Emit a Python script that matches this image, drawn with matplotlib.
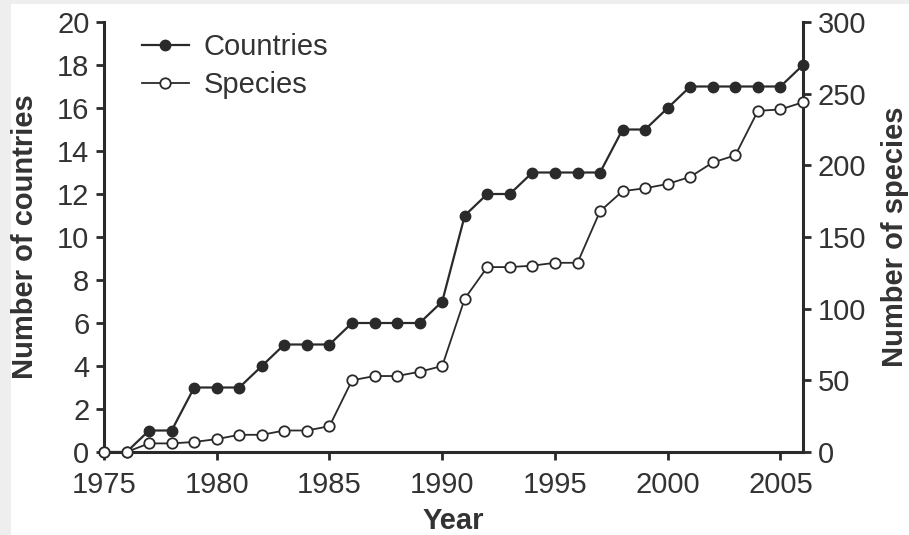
import matplotlib.pyplot as plt
from matplotlib.patches import Rectangle

plt.rcParams['font.family'] = ['Liberation Sans', 'DejaVu Sans']

years = list(range(1975, 2007))
countries = [0, 0, 1, 1, 3, 3, 3, 4, 5, 5, 5, 6, 6, 6, 6, 7,
             11, 12, 12, 13, 13, 13, 13, 15, 15, 16, 17, 17, 17, 17, 17, 18]
species = [0, 0, 6, 6, 7, 9, 12, 12, 15, 15, 18, 50, 53, 53, 56, 60,
           107, 129, 129, 130, 132, 132, 168, 182, 184, 187, 192, 202, 207, 238, 239, 244]

xticks = [1975, 1980, 1985, 1990, 1995, 2000, 2005]
ink = '#2a2a2a'
txt = '#333333'
fs = 21

fig = plt.figure(figsize=(9.09, 5.35), dpi=100)
# light grey frame on the left and top edges
fig.patches.append(Rectangle((0, 0), 1, 1, transform=fig.transFigure,
                             facecolor='#eeeeee', edgecolor='none', zorder=-2))
fig.patches.append(Rectangle((11/909, 0), 1, 1 - 4/535, transform=fig.transFigure,
                             facecolor='white', edgecolor='none', zorder=-1))

ax = fig.add_axes([104/909, 83/535, 699/909, 430/535])
ax.patch.set_alpha(0)
ax2 = ax.twinx()

l1, = ax.plot(years, countries, '-o', color=ink, lw=1.6, ms=7.5,
              mfc=ink, mec=ink, label='Countries', zorder=3)
l2, = ax2.plot(years, species, '-o', color=ink, lw=1.3, ms=7.5,
               mfc='white', mec=ink, mew=1.3, label='Species', zorder=4)

ax.set_xlim(1975, 2006)
ax.set_ylim(0, 20)
ax2.set_ylim(0, 300)
ax.set_xticks(xticks)
ax.set_yticks(range(0, 21, 2))
ax2.set_yticks(range(0, 301, 50))

for a in (ax, ax2):
    a.spines['top'].set_visible(False)
    for s in a.spines.values():
        s.set_color(ink)
        s.set_linewidth(2.2)
    a.tick_params(colors=ink, labelcolor=txt, labelsize=fs, width=2, length=5.5, pad=5)
ax.tick_params(axis='x', pad=8)
ax.spines['right'].set_visible(False)
ax2.spines['left'].set_visible(False)
ax2.spines['bottom'].set_visible(False)
l1.set_clip_on(False)
l2.set_clip_on(False)

ax.set_xlabel('Year', fontsize=fs, fontweight='bold', color=txt, labelpad=6)
ax.set_ylabel('Number of countries', fontsize=fs, fontweight='bold', color=txt, labelpad=13)
ax2.set_ylabel('Number of species', fontsize=fs, fontweight='bold', color=txt, labelpad=11)

ax.legend(handles=[l1, l2], loc='upper left', bbox_to_anchor=(0.017, 1.035), frameon=False,
          fontsize=fs, handlelength=1.6, handletextpad=0.5, labelspacing=0.35,
          labelcolor=txt)

fig.savefig('out.png', dpi=100)
